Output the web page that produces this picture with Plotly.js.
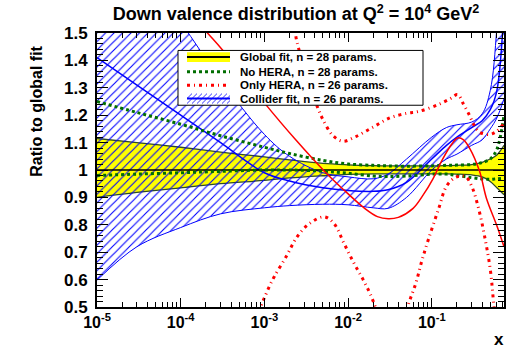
<!DOCTYPE html>
<html>
<head>
<meta charset="utf-8">
<script src="https://cdn.plot.ly/plotly-3.0.1.min.js"></script>
<style>html,body{margin:0;padding:0;background:#fff;}#chart{width:515px;height:349px;}</style>
</head>
<body>
<div id="chart"></div>
<script>
// ---------- data ----------
const xGrid = [1e-5, 3e-5, 1e-4, 3e-4, 1e-3, 2e-3, 5e-3, 1e-2, 2e-2, 3e-2, 5e-2, 0.1, 0.15, 0.2, 0.3, 0.4, 0.5, 0.6, 0.73];
const globalUpper = [1.115, 1.10, 1.083, 1.065, 1.048, 1.037, 1.024, 1.019, 1.016, 1.015, 1.015, 1.015, 1.016, 1.017, 1.02, 1.028, 1.04, 1.055, 1.09];
const globalLower = [0.90, 0.918, 0.935, 0.95, 0.962, 0.971, 0.979, 0.984, 0.986, 0.986, 0.986, 0.986, 0.986, 0.985, 0.982, 0.975, 0.958, 0.935, 0.91];
const globalCentralX = [1e-5, 0.73];
const globalCentral = [1.0, 1.0];
const noHeraUpper = [1.25, 1.21, 1.167, 1.125, 1.083, 1.06, 1.035, 1.022, 1.017, 1.015, 1.014, 1.015, 1.017, 1.018, 1.02, 1.027, 1.04, 1.075, 1.2];
const noHeraLower = [0.98, 0.985, 0.99, 0.995, 1.0, 1.0, 0.996, 0.988, 0.978, 0.976, 0.978, 0.985, 0.985, 0.98, 0.972, 0.967, 0.966, 0.968, 0.97];
const colliderCentral = [1.41, 1.31, 1.20, 1.10, 0.99, 0.96, 0.935, 0.925, 0.922, 0.928, 0.955, 1.04, 1.09, 1.12, 1.155, 1.18, 1.22, 1.29, 1.6];
const colliderUpper = [1.95, 1.76, 1.54, 1.33, 1.13, 1.05, 0.99, 0.975, 0.968, 0.985, 1.04, 1.12, 1.155, 1.165, 1.175, 1.205, 1.29, 1.52, 2.0];
const colliderLower = [0.598, 0.72, 0.79, 0.84, 0.862, 0.87, 0.875, 0.873, 0.862, 0.86, 0.9, 1.0, 1.04, 1.058, 1.09, 1.11, 1.15, 1.19, 1.26];

const onlyHeraX = [1e-4, 2.09e-4, 3.16e-4, 1e-3, 2.34e-3, 5.32e-3, 8.71e-3, 1.58e-2, 2.24e-2, 3.02e-2, 3.98e-2, 5.94e-2, 7.94e-2, 0.103, 0.135, 0.174, 0.204, 0.24, 0.283, 0.372, 0.452, 0.594, 0.73];
const onlyHera = [1.61, 1.5, 1.438, 1.245, 1.112, 0.993, 0.93, 0.86, 0.83, 0.822, 0.827, 0.859, 0.91, 0.967, 1.04, 1.095, 1.117, 1.11, 1.08, 0.996, 0.895, 0.80, 0.72];
const onlyHeraUpperX = [2.0e-3, 2.34e-3, 2.54e-3, 3.55e-3, 4.28e-3, 4.9e-3, 6.61e-3, 8.71e-3, 1.2e-2, 1.95e-2, 3.16e-2, 5.01e-2, 7.08e-2, 0.12, 0.166, 0.204, 0.24, 0.282, 0.316, 0.372, 0.49, 0.594, 0.73];
const onlyHeraUpper = [1.75, 1.5, 1.449, 1.3, 1.232, 1.19, 1.125, 1.105, 1.12, 1.155, 1.19, 1.207, 1.214, 1.239, 1.26, 1.275, 1.24, 1.2, 1.167, 1.138, 1.13, 1.141, 1.17];
const onlyHeraLowerX = [7.94e-4, 9.2e-4, 1e-3, 1.15e-3, 1.32e-3, 1.83e-3, 2.47e-3, 3.44e-3, 5.18e-3, 6.81e-3, 8.95e-3, 1.18e-2, 1.55e-2, 2.04e-2, 3.31e-2, 5.32e-2, 6.46e-2, 7.59e-2, 9.2e-2, 0.121, 0.151, 0.199, 0.254, 0.299, 0.363, 0.44, 0.504, 0.547, 0.631, 0.73];
const onlyHeraLower = [0.44, 0.507, 0.533, 0.576, 0.612, 0.685, 0.757, 0.804, 0.829, 0.804, 0.732, 0.659, 0.594, 0.514, 0.30, 0.514, 0.587, 0.667, 0.75, 0.859, 0.942, 0.975, 0.975, 0.942, 0.859, 0.739, 0.63, 0.52, 0.35, 0.25];

const xTickVals = [1e-5, 1e-4, 1e-3, 1e-2, 1e-1];
const xTickText = ['10<sup>-5</sup>', '10<sup>-4</sup>', '10<sup>-3</sup>', '10<sup>-2</sup>', '10<sup>-1</sup>'];
const legendLabels = ['Global fit, n = 28 params.', 'No HERA, n = 28 params.', 'Only HERA, n = 26 params.', 'Collider fit, n = 26 params.'];
const titleText = 'Down valence distribution at Q<sup>2</sup> = 10<sup>4</sup> GeV<sup>2</sup>';

// ---------- styles ----------
const FONT = 'Liberation Sans, Arial, Helvetica, sans-serif';
const BLUE = '#0000ff', RED = '#ff0000', GREEN = '#006e00', YEL = '#ffff00', EDGE = '#2f4a26';
const RED_DASH = '3px,4px,1px,4px';
const GREEN_DOT = '3px,3px';

// plot area in pixels
const L = 97, R = 504, T = 32.5, B = 307.5;
const px = v => (v - L) / (R - L);
const py = v => (B - v) / (B - T);

const traces = [
  // global band
  {x: xGrid, y: globalUpper, mode: 'lines', line: {color: EDGE, width: 1.3, shape: 'spline'}, hoverinfo: 'skip'},
  {x: xGrid, y: globalLower, mode: 'lines', fill: 'tonexty', fillcolor: YEL, line: {color: EDGE, width: 1.3, shape: 'spline'}, hoverinfo: 'skip'},
  // collider band (hatched)
  {x: xGrid, y: colliderUpper, mode: 'lines', line: {color: BLUE, width: 1, shape: 'spline'}, hoverinfo: 'skip'},
  {x: xGrid, y: colliderLower, mode: 'lines', fill: 'tonexty', fillcolor: 'rgba(0,0,0,0)',
   fillpattern: {shape: '/', fgcolor: BLUE, bgcolor: 'rgba(0,0,0,0)', size: 6, solidity: 0.18},
   line: {color: BLUE, width: 1, shape: 'spline'}, hoverinfo: 'skip'},
  {x: xGrid, y: colliderCentral, mode: 'lines', line: {color: BLUE, width: 1.5, shape: 'spline'}, hoverinfo: 'skip'},
  // global central
  {x: globalCentralX, y: globalCentral, mode: 'lines', line: {color: '#000', width: 1.6}, hoverinfo: 'skip'},
  // no HERA
  {x: xGrid, y: noHeraUpper, mode: 'lines', line: {color: GREEN, width: 3, dash: GREEN_DOT, shape: 'spline'}, hoverinfo: 'skip'},
  {x: xGrid, y: noHeraLower, mode: 'lines', line: {color: GREEN, width: 3, dash: GREEN_DOT, shape: 'spline'}, hoverinfo: 'skip'},
  // only HERA
  {x: onlyHeraX, y: onlyHera, mode: 'lines', line: {color: RED, width: 1.5, shape: 'spline'}, hoverinfo: 'skip'},
  {x: onlyHeraUpperX, y: onlyHeraUpper, mode: 'lines', line: {color: RED, width: 3, dash: RED_DASH, shape: 'spline'}, hoverinfo: 'skip'},
  {x: onlyHeraLowerX, y: onlyHeraLower, mode: 'lines', line: {color: RED, width: 3, dash: RED_DASH, shape: 'spline'}, hoverinfo: 'skip'}
];

// minor log ticks
const xMinor = [];
for (let d = -5; d <= -1; d++) for (let m = 2; m <= 9; m++) { const v = m * Math.pow(10, d); if (v < 0.73) xMinor.push(v); }

// legend (manual, ROOT-style)
const shapes = [];
const annotations = [];
shapes.push({type: 'rect', xref: 'paper', yref: 'paper', x0: px(178), x1: px(423), y0: py(105), y1: py(50),
  fillcolor: '#fff', line: {color: '#000', width: 1}, layer: 'above'});
const sx0 = 187, sx1 = 230;
const rows = [56.7, 71.5, 85, 98.3];
// row 1: yellow band
shapes.push({type: 'rect', xref: 'paper', yref: 'paper', x0: px(sx0), x1: px(sx1), y0: py(rows[0] + 5), y1: py(rows[0] - 5),
  fillcolor: YEL, line: {width: 0}, layer: 'above'});
shapes.push({type: 'line', xref: 'paper', yref: 'paper', x0: px(sx0), x1: px(sx1), y0: py(rows[0]), y1: py(rows[0]),
  line: {color: '#000', width: 2}, layer: 'above'});
// row 2: green dotted
shapes.push({type: 'line', xref: 'paper', yref: 'paper', x0: px(sx0), x1: px(sx1), y0: py(rows[1]), y1: py(rows[1]),
  line: {color: GREEN, width: 3, dash: GREEN_DOT}, layer: 'above'});
// row 3: red dash-dot
shapes.push({type: 'line', xref: 'paper', yref: 'paper', x0: px(sx0), x1: px(sx1), y0: py(rows[2]), y1: py(rows[2]),
  line: {color: RED, width: 3, dash: RED_DASH}, layer: 'above'});
// row 4: hatched blue
const hTop = rows[3] - 5, hBot = rows[3] + 5, hh = hBot - hTop;
for (let s = sx0 - hh; s < sx1; s += 5) {
  let xa = s, ya = hBot, xb = s + hh, yb = hTop;
  if (xa < sx0) { ya = hBot - (sx0 - xa); xa = sx0; }
  if (xb > sx1) { yb = hTop + (xb - sx1); xb = sx1; }
  if (xb - xa < 0.5) continue;
  shapes.push({type: 'line', xref: 'paper', yref: 'paper', x0: px(xa), x1: px(xb), y0: py(ya), y1: py(yb),
    line: {color: BLUE, width: 0.8}, layer: 'above'});
}
shapes.push({type: 'line', xref: 'paper', yref: 'paper', x0: px(sx0), x1: px(sx1), y0: py(rows[3]), y1: py(rows[3]),
  line: {color: BLUE, width: 2}, layer: 'above'});

legendLabels.forEach((t, i) => {
  annotations.push({xref: 'paper', yref: 'paper', x: px(238), y: py(rows[i]), xanchor: 'left', yanchor: 'middle',
    text: t, showarrow: false, font: {family: FONT, size: 11.5, color: '#000', weight: 'bold'}});
});
// axis titles
annotations.push({xref: 'paper', yref: 'paper', x: px(37), y: py(111.5), xanchor: 'center', yanchor: 'middle', textangle: -90,
  text: 'Ratio to global fit', showarrow: false, font: {family: FONT, size: 16, color: '#000', weight: 'bold'}});
annotations.push({xref: 'paper', yref: 'paper', x: px(499), y: py(340), xanchor: 'center', yanchor: 'middle',
  text: 'x', showarrow: false, font: {family: FONT, size: 17, color: '#000', weight: 'bold'}});

const layout = {
  width: 515, height: 349,
  margin: {l: L, r: 515 - R, t: T, b: 349 - B},
  paper_bgcolor: '#fff', plot_bgcolor: '#fff',
  showlegend: false,
  title: {text: titleText, x: px(296), xref: 'paper', xanchor: 'center', y: 1 - 14 / 349, yref: 'container', yanchor: 'middle',
    font: {family: FONT, size: 18, color: '#000', weight: 'bold'}},
  xaxis: {type: 'log', range: [-5, Math.log10(0.73)], tickvals: xTickVals, ticktext: xTickText,
    ticks: 'inside', ticklen: 9, tickwidth: 1, tickcolor: '#000',
    minor: {tickvals: xMinor, ticks: 'inside', ticklen: 5, tickwidth: 1, tickcolor: '#000', showgrid: false},
    showgrid: false, zeroline: false, showline: true, linecolor: '#000', linewidth: 2, mirror: 'ticks',
    tickfont: {family: FONT, size: 16, color: '#000', weight: 'bold'}},
  yaxis: {range: [0.5, 1.5], tick0: 0.5, dtick: 0.1,
    ticks: 'inside', ticklen: 11, tickwidth: 1, tickcolor: '#000',
    minor: {dtick: 0.02, ticks: 'inside', ticklen: 6, tickwidth: 1, tickcolor: '#000', showgrid: false},
    showgrid: false, zeroline: false, showline: true, linecolor: '#000', linewidth: 2, mirror: 'ticks',
    ticklabelstandoff: 4,
    tickfont: {family: FONT, size: 17, color: '#000', weight: 'bold'}},
  shapes: shapes,
  annotations: annotations
};

Plotly.newPlot('chart', traces, layout, {staticPlot: true, displayModeBar: false});
</script>
</body>
</html>
